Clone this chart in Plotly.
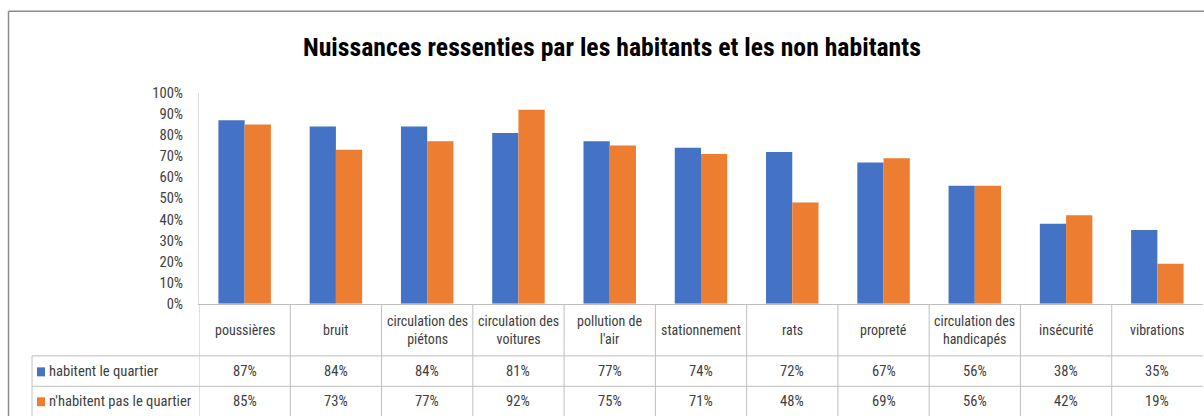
import plotly.graph_objects as go

# Screen geometry: the captured page is squeezed vertically to fit 416px and the figure
# sits 8px below the page top once the body margin is removed.
PAGE_W, PAGE_H = 1204, 416
V_SCALE = 433.3 / 416.0
OFF_Y = 8
FW, FH = PAGE_W, 424

title = "Nuissances ressenties par les habitants et les non habitants"
categories = ["poussières", "bruit", "circulation des<br>piétons", "circulation des<br>voitures",
              "pollution de<br>l'air", "stationnement", "rats", "propreté",
              "circulation des<br>handicapés", "insécurité", "vibrations"]
series_names = ["habitent le quartier", "n'habitent pas le quartier"]
habitent = [87, 84, 84, 81, 77, 74, 72, 67, 56, 38, 35]
non_habitent = [85, 73, 77, 92, 75, 71, 48, 69, 56, 42, 19]
colors = ["#4472C4", "#ED7D31"]
series_values = [habitent, non_habitent]

FONT = "Liberation Sans Narrow, Arial Narrow, Roboto Condensed, sans-serif"


def px(x):
    return x / FW


def py(y):
    return 1 - (y * V_SCALE - OFF_Y) / FH


X0, X1 = 199, 1203
Y_ZERO, Y_TOP = 303.3, 91.7
ROW1, ROW2, BOTTOM = 355.5, 386, 416
LEG_X = 32
n = len(categories)

fig = go.Figure()
xs = list(range(n))
for name, vals, col in zip(series_names, series_values, colors):
    fig.add_trace(go.Bar(x=xs, y=[v / 100 for v in vals], name=name,
                         marker=dict(color=col, line=dict(width=0)),
                         hoverinfo="y+name"))

shapes = []
line_col = "#BFBFBF"
# outer chart border (left and top)
shapes.append(dict(type="line", xref="paper", yref="paper", x0=px(8.5), x1=px(8.5), y0=py(10), y1=py(PAGE_H + 10),
                   line=dict(color="#8C8C8C", width=1.5)))
shapes.append(dict(type="line", xref="paper", yref="paper", x0=px(8.5), x1=px(PAGE_W + 5), y0=py(10), y1=py(10),
                   line=dict(color="#8C8C8C", width=1.5)))
for yy in (ROW1, ROW2):
    shapes.append(dict(type="line", xref="paper", yref="paper", x0=px(LEG_X), x1=px(X1), y0=py(yy), y1=py(yy),
                       line=dict(color=line_col, width=1)))
shapes.append(dict(type="line", xref="paper", yref="paper", x0=px(LEG_X), x1=px(LEG_X), y0=py(ROW1), y1=py(BOTTOM + 10),
                   line=dict(color=line_col, width=1)))
for i in range(n):
    shapes.append(dict(type="line", xref="x", yref="paper", x0=i - 0.5, x1=i - 0.5, y0=py(Y_ZERO), y1=py(BOTTOM + 10),
                       line=dict(color=line_col, width=1)))
for yy, col in zip((371.5, 401.5), colors):
    shapes.append(dict(type="rect", xref="paper", yref="paper", x0=px(37), x1=px(45), y0=py(yy - 4.5), y1=py(yy + 4.5),
                       fillcolor=col, line=dict(width=0)))

annotations = []
header_mid = (Y_ZERO + ROW1) / 2
for i, c in enumerate(categories):
    annotations.append(dict(x=i, y=py(header_mid), xref="x", yref="paper", text=c, showarrow=False,
                            font=dict(family=FONT, size=14, color="#404040"), align="center",
                            xanchor="center", yanchor="middle"))
row_mids = [(ROW1 + ROW2) / 2, (ROW2 + BOTTOM) / 2]
for r, (name, vals) in enumerate(zip(series_names, series_values)):
    annotations.append(dict(x=px(47), y=py(row_mids[r]), xref="paper", yref="paper", text=name, showarrow=False,
                            font=dict(family=FONT, size=14.6, color="#404040"), xanchor="left", yanchor="middle"))
    for i, v in enumerate(vals):
        annotations.append(dict(x=i, y=py(row_mids[r]), xref="x", yref="paper", text=f"{v}%", showarrow=False,
                                font=dict(family=FONT, size=14.6, color="#404040"), xanchor="center",
                                yanchor="middle"))
annotations.append(dict(x=px(612), y=py(46), xref="paper", yref="paper", text=f"<b>{title}</b>", showarrow=False,
                        font=dict(family=FONT, size=25.7, color="#000000"), xanchor="center", yanchor="middle"))

fig.update_layout(
    width=FW, height=FH, autosize=False,
    margin=dict(l=0, r=0, t=0, b=0),
    paper_bgcolor="white", plot_bgcolor="white",
    barmode="group", bargap=0.425, bargroupgap=0,
    showlegend=False,
    shapes=shapes, annotations=annotations,
    xaxis=dict(domain=[px(X0), px(X1)], range=[-0.5, n - 0.5], showticklabels=False,
               showgrid=False, zeroline=False, showline=True, linecolor=line_col, linewidth=1, ticks=""),
    yaxis=dict(domain=[py(Y_ZERO), py(Y_TOP)], range=[0, 1], dtick=0.1, tickformat=".0%",
               showgrid=False, zeroline=False, showline=True, linecolor="#D9D9D9", linewidth=1,
               ticks="", ticklabelstandoff=12,
               tickfont=dict(family=FONT, size=14.6, color="#404040")),
)

fig.write_html("out.html", config={"displayModeBar": False},
               post_script="document.body.style.margin='0';")
